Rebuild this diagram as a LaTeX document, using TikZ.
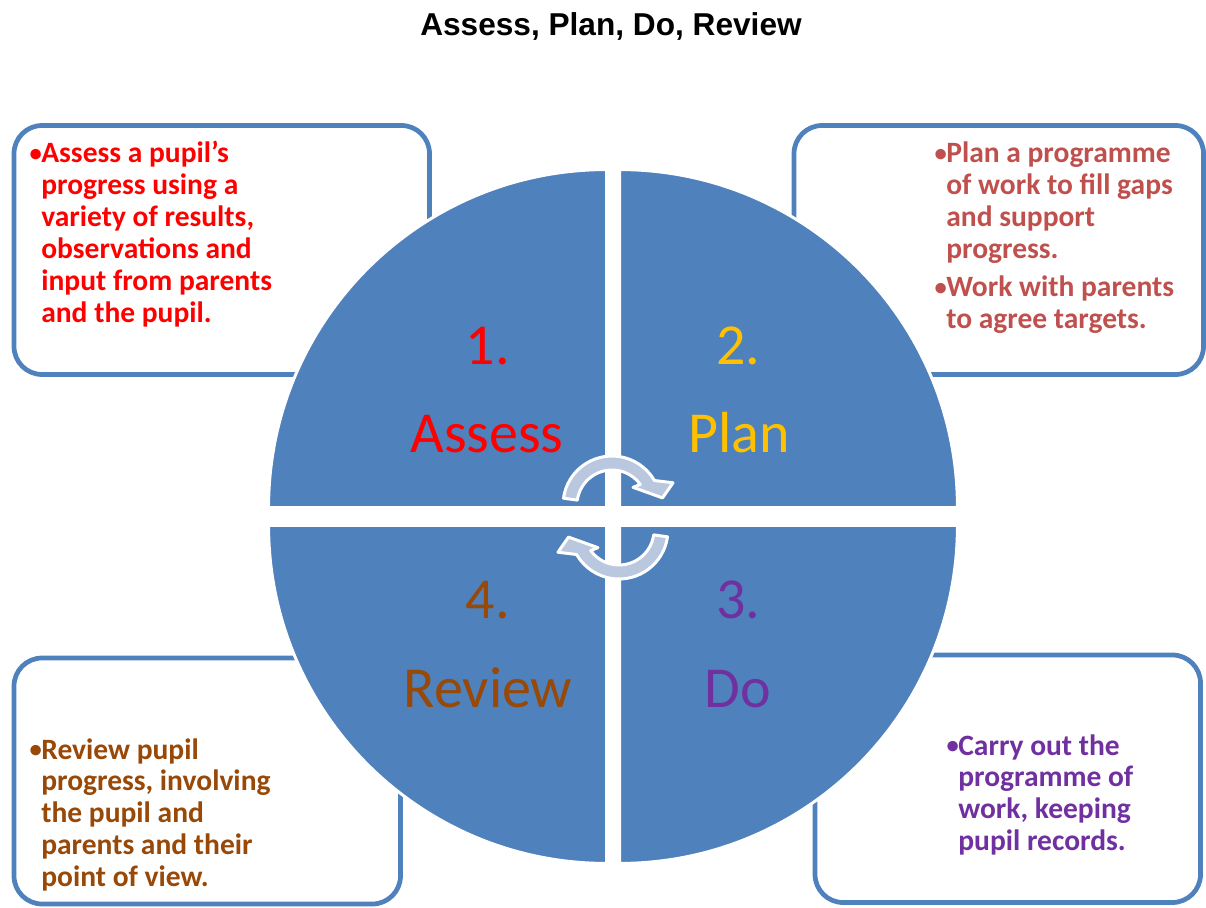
\documentclass[tikz,border=0pt]{standalone}
\usepackage{fontspec}
\setmainfont{Carlito}
\newfontfamily\titlefont{Liberation Sans}
\usepackage{tikz}
\usetikzlibrary{positioning}
\definecolor{quadblue}{RGB}{79,129,189}
\definecolor{boxblue}{RGB}{79,129,189}
\definecolor{cyclegrey}{RGB}{185,199,223}
\definecolor{assessred}{RGB}{255,0,0}
\definecolor{planred}{RGB}{192,80,77}
\definecolor{plangold}{RGB}{255,192,0}
\definecolor{dopurple}{RGB}{112,48,160}
\definecolor{reviewbrown}{RGB}{152,72,7}
\newcommand{\bul}{\makebox[5.5pt][l]{\hspace{-1.2pt}\raisebox{0.6pt}{\fontsize{14}{14}\selectfont•}}}

\begin{document}
\begin{tikzpicture}[x=0.02cm, y=0.02cm,
  infobox/.style={draw=boxblue, line width=2.7pt, rounded corners=16pt, fill=white},
  quarter/.style={fill=quadblue, draw=white, line width=1.7pt},
  cyclearrow/.style={fill=cyclegrey, draw=white, line width=1.7pt, line join=round},
  notes/.style={anchor=base west, inner sep=0pt, font=\fontsize{16.8}{18.2}\selectfont\bfseries},
  stage/.style={anchor=base, inner sep=0pt, font=\fontsize{33}{36}\selectfont}
]
\useasboundingbox (0,0) rectangle (1206,907);
\node[anchor=base, inner sep=0pt, font=\titlefont\fontsize{18}{22}\selectfont\bfseries] (title) at (611,871) {Assess, Plan, Do, Review};
\draw[infobox] (14,781.5) rectangle (429.5,532.5);
\draw[infobox] (794,781.5) rectangle (1203.5,532.5);
\draw[infobox] (14,249) rectangle (400.5,3);
\draw[infobox] (815,252) rectangle (1200.5,4.5);
\draw[quarter] (606.5,399.5) -- ++(-6.76cm,0) arc[start angle=180, end angle=90, radius=6.76cm] -- cycle;
\draw[quarter] (619.5,399.5) -- ++(0,6.76cm) arc[start angle=90, end angle=0, radius=6.76cm] -- cycle;
\draw[quarter] (606.5,381.5) -- ++(0,-6.76cm) arc[start angle=270, end angle=180, radius=6.76cm] -- cycle;
\draw[quarter] (619.5,381.5) -- ++(6.76cm,0) arc[start angle=0, end angle=-90, radius=6.76cm] -- cycle;
\draw[cyclearrow, shift={(612,402)}] (172:0.98cm) arc[start angle=172, end angle=30, radius=0.98cm] -- (20:1.30cm) -- (8:1.02cm) -- (40:0.55cm) -- (36:0.70cm) arc[start angle=36, end angle=172, radius=0.70cm] -- cycle;
\draw[cyclearrow, shift={(619,377)}, rotate=180] (172:0.98cm) arc[start angle=172, end angle=30, radius=0.98cm] -- (20:1.30cm) -- (8:1.02cm) -- (40:0.55cm) -- (36:0.70cm) arc[start angle=36, end angle=172, radius=0.70cm] -- cycle;
\node[stage, text=assessred] (num1) at (488,542) {1.};
\node[stage, text=assessred] (assess) at (487,455) {Assess};
\node[stage, text=plangold] (num2) at (738,542) {2.};
\node[stage, text=plangold] (plan) at (739,455) {Plan};
\node[stage, text=dopurple] (num3) at (738,289) {3.};
\node[stage, text=dopurple] (do) at (738,200) {Do};
\node[stage, text=reviewbrown] (num4) at (488,289) {4.};
\node[stage, text=reviewbrown] (review) at (488,200) {Review};
\node[notes, text=assessred] (assessnote) at (31.3,744) {\begin{tabular}[t]{@{}l@{}l@{}}
\bul&Assess a pupil’s\\
&progress using a\\
&variety of results,\\
&observations and\\
&input from parents\\
&and the pupil.
\end{tabular}};
\node[notes, text=planred] (plannote) at (936.3,744) {\begin{tabular}[t]{@{}l@{}l@{}}
\bul&Plan a programme\\
&of work to fill gaps\\
&and support\\
&progress.\\[3pt]
\bul&Work with parents\\
&to agree targets.
\end{tabular}};
\node[notes, text=dopurple] (donote) at (948.3,152) {\begin{tabular}[t]{@{}l@{}l@{}}
\bul&Carry out the\\
&programme of\\
&work, keeping\\
&pupil records.
\end{tabular}};
\node[notes, text=reviewbrown] (reviewnote) at (31.3,148) {\begin{tabular}[t]{@{}l@{}l@{}}
\bul&Review pupil\\
&progress, involving\\
&the pupil and\\
&parents and their\\
&point of view.
\end{tabular}};
\end{tikzpicture}
\end{document}
